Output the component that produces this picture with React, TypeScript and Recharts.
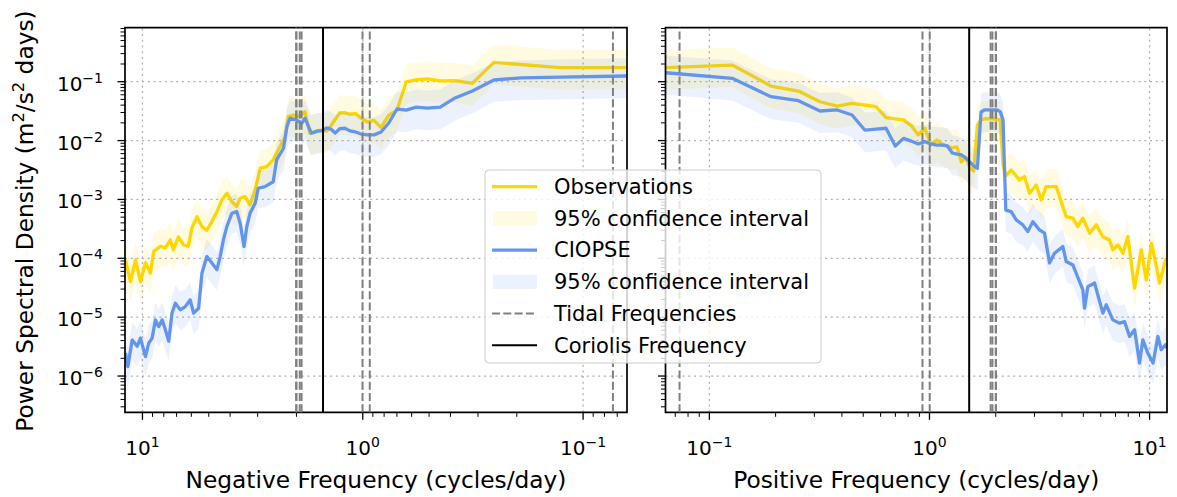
import React from 'react';
import { ComposedChart, Line, Area, XAxis, YAxis, ReferenceLine, ReferenceArea } from 'recharts';

// ---------- data ----------
const negObsFreq = [0.0635, 0.127, 0.254, 0.318, 0.381, 0.445, 0.508, 0.572, 0.635, 0.699, 0.762, 0.826, 0.889, 0.953, 1.016, 1.08, 1.143, 1.206, 1.27, 1.334, 1.397, 1.46, 1.524, 1.62, 1.74, 1.83, 1.93, 2.07, 2.18, 2.25, 2.42, 2.55, 2.73, 2.92, 3.08, 3.25, 3.42, 3.6, 3.73, 3.93, 4.14, 4.36, 4.59, 4.84, 5.1, 5.37, 5.65, 5.96, 6.19, 6.52, 6.87, 7.24, 7.47, 7.87, 8.29, 8.89, 9.2, 9.69, 10.21, 10.76, 11.33, 11.94];
const negObs = [0.173, 0.173, 0.213, 0.094, 0.104, 0.103, 0.112, 0.107, 0.099, 0.033, 0.027, 0.0167, 0.022, 0.0207, 0.024, 0.029, 0.028, 0.0295, 0.0295, 0.023, 0.0177, 0.0145, 0.015, 0.0147, 0.0133, 0.031, 0.0255, 0.0272, 0.0255, 0.0116, 0.0069, 0.0047, 0.0036, 0.0034, 0.00145, 0.00081, 0.00112, 0.00105, 0.00076, 0.00092, 0.00127, 0.00098, 0.00062, 0.00042, 0.0003, 0.000345, 0.00051, 0.00033, 0.00016, 0.00017, 0.00023, 0.00014, 0.000205, 0.00015, 0.00016, 0.00013, 0.000056, 0.000084, 0.00004, 0.000094, 0.00004, 0.000094];
const negObsHi = [0.35, 0.35, 0.43, 0.19, 0.21, 0.21, 0.22, 0.21, 0.2, 0.066, 0.054, 0.033, 0.044, 0.041, 0.048, 0.058, 0.056, 0.059, 0.059, 0.046, 0.035, 0.029, 0.03, 0.029, 0.027, 0.062, 0.051, 0.054, 0.051, 0.023, 0.014, 0.0094, 0.0072, 0.0068, 0.0029, 0.0016, 0.0022, 0.0021, 0.0015, 0.0018, 0.0025, 0.002, 0.0012, 0.00084, 0.0006, 0.00069, 0.001, 0.00066, 0.00032, 0.00034, 0.00046, 0.00028, 0.00041, 0.0003, 0.00032, 0.00026, 0.00011, 0.00017, 0.00008, 0.00019, 0.00008, 0.00019];
const negObsLo = [0.073, 0.073, 0.089, 0.039, 0.044, 0.043, 0.047, 0.045, 0.042, 0.014, 0.011, 0.007, 0.0092, 0.0087, 0.01, 0.012, 0.0118, 0.0124, 0.0124, 0.0097, 0.0074, 0.0061, 0.0063, 0.0062, 0.0056, 0.013, 0.0107, 0.0114, 0.0107, 0.0049, 0.0029, 0.0021, 0.0016, 0.0015, 0.00065, 0.00036, 0.0005, 0.00047, 0.00034, 0.00041, 0.00057, 0.00044, 0.00028, 0.00019, 0.000135, 0.000155, 0.00023, 0.00015, 0.000072, 0.000077, 0.0001, 0.000063, 0.000092, 0.000068, 0.000072, 0.000059, 0.000025, 0.000038, 0.000018, 0.000042, 0.000018, 0.000042];

const negModFreq = [0.0635, 0.127, 0.1905, 0.254, 0.318, 0.381, 0.445, 0.508, 0.572, 0.635, 0.699, 0.762, 0.826, 0.889, 0.953, 1.016, 1.08, 1.143, 1.206, 1.27, 1.334, 1.397, 1.46, 1.524, 1.6, 1.71, 1.83, 1.89, 2.0, 2.14, 2.21, 2.29, 2.46, 2.55, 2.78, 2.98, 3.08, 3.25, 3.36, 3.46, 3.6, 3.73, 3.93, 4.14, 4.29, 4.44, 4.59, 4.84, 5.1, 5.37, 5.56, 5.86, 6.07, 6.39, 6.73, 7.09, 7.34, 7.6, 7.87, 8.14, 8.44, 8.73, 9.04, 9.37, 9.69, 10.21, 10.57, 11.13, 11.65, 11.94];
const negMod = [0.125, 0.12, 0.116, 0.107, 0.0695, 0.053, 0.037, 0.0357, 0.037, 0.033, 0.0344, 0.0199, 0.014, 0.0125, 0.0125, 0.0129, 0.014, 0.0146, 0.0162, 0.016, 0.0134, 0.0157, 0.0164, 0.0148, 0.0145, 0.0133, 0.024, 0.0197, 0.0224, 0.024, 0.0172, 0.0074, 0.0047, 0.002, 0.00165, 0.00155, 0.00086, 0.00058, 0.000345, 0.000158, 0.00039, 0.00062, 0.00058, 0.000345, 0.000205, 0.000107, 0.000064, 0.000083, 0.000107, 0.000056, 0.0000142, 0.0000117, 0.0000197, 0.0000151, 0.0000133, 0.0000173, 0.0000117, 0.0000039, 0.0000061, 0.000009, 0.0000069, 0.000009, 0.0000044, 0.0000036, 0.00000214, 0.0000044, 0.0000032, 0.0000041, 0.00000145, 0.00000245];
const negModHi = [0.25, 0.24, 0.23, 0.21, 0.14, 0.106, 0.074, 0.071, 0.074, 0.066, 0.069, 0.04, 0.028, 0.025, 0.025, 0.026, 0.028, 0.029, 0.032, 0.032, 0.027, 0.031, 0.033, 0.03, 0.029, 0.027, 0.048, 0.039, 0.045, 0.048, 0.034, 0.015, 0.0094, 0.004, 0.0033, 0.0031, 0.0017, 0.00116, 0.00069, 0.00032, 0.00078, 0.00124, 0.00116, 0.00069, 0.00041, 0.00021, 0.000128, 0.000166, 0.00021, 0.000112, 0.000028, 0.000023, 0.000039, 0.00003, 0.000027, 0.000035, 0.000023, 0.0000078, 0.0000122, 0.000018, 0.0000138, 0.000018, 0.0000088, 0.0000072, 0.0000043, 0.0000088, 0.0000064, 0.0000082, 0.0000029, 0.0000049];
const negModLo = [0.053, 0.05, 0.049, 0.045, 0.029, 0.022, 0.0155, 0.015, 0.0155, 0.0139, 0.0144, 0.0084, 0.0059, 0.0053, 0.0053, 0.0054, 0.0059, 0.0061, 0.0068, 0.0067, 0.0056, 0.0066, 0.0069, 0.0062, 0.0061, 0.0056, 0.01, 0.0083, 0.0094, 0.01, 0.0072, 0.0031, 0.002, 0.0009, 0.00074, 0.0007, 0.00039, 0.00026, 0.000155, 0.000071, 0.000175, 0.00028, 0.00026, 0.000155, 0.000092, 0.000048, 0.000029, 0.000037, 0.000048, 0.000025, 0.0000064, 0.0000053, 0.0000089, 0.0000068, 0.000006, 0.0000078, 0.0000053, 0.00000175, 0.0000027, 0.000004, 0.0000031, 0.000004, 0.000002, 0.0000016, 0.00000096, 0.000002, 0.00000144, 0.00000185, 0.00000065, 0.0000011];

const posObsFreq = [0.0635, 0.127, 0.1905, 0.254, 0.318, 0.381, 0.445, 0.508, 0.572, 0.635, 0.699, 0.762, 0.826, 0.889, 0.953, 1.016, 1.08, 1.143, 1.206, 1.27, 1.334, 1.397, 1.46, 1.524, 1.588, 1.651, 1.715, 1.778, 1.905, 2.032, 2.096, 2.159, 2.222, 2.352, 2.566, 2.703, 2.848, 3.055, 3.219, 3.392, 3.766, 4.182, 4.481, 4.722, 4.975, 5.337, 5.724, 6.135, 6.579, 6.811, 7.177, 7.562, 7.969, 8.548, 9.17, 9.66, 10.2, 10.67, 11.1, 11.82, 11.95];
const posObs = [0.173, 0.192, 0.0845, 0.0695, 0.0457, 0.0386, 0.043, 0.0402, 0.0377, 0.0245, 0.0233, 0.0224, 0.018, 0.01245, 0.0162, 0.0084, 0.0102, 0.00875, 0.0081, 0.0075, 0.0078, 0.00434, 0.00527, 0.00343, 0.00305, 0.0184, 0.0224, 0.0233, 0.0237, 0.0228, 0.0224, 0.00385, 0.0025, 0.00317, 0.00214, 0.00244, 0.00127, 0.00176, 0.00098, 0.00165, 0.00165, 0.00051, 0.00048, 0.000345, 0.00048, 0.000267, 0.00037, 0.000233, 0.000205, 0.000139, 0.000169, 0.000122, 0.000233, 0.000031, 0.000139, 0.000043, 0.00018, 0.000083, 0.000038, 0.000094, 0.0001];
const posObsHi = [0.35, 0.38, 0.17, 0.14, 0.091, 0.077, 0.086, 0.08, 0.075, 0.049, 0.047, 0.045, 0.036, 0.025, 0.032, 0.017, 0.02, 0.0175, 0.016, 0.015, 0.0156, 0.0087, 0.0105, 0.0069, 0.0061, 0.037, 0.045, 0.047, 0.047, 0.046, 0.045, 0.0077, 0.005, 0.0063, 0.0043, 0.0049, 0.0025, 0.0035, 0.002, 0.0033, 0.0033, 0.001, 0.00096, 0.00069, 0.00096, 0.00053, 0.00074, 0.00047, 0.00041, 0.00028, 0.00034, 0.00024, 0.00047, 0.000062, 0.00028, 0.000086, 0.00036, 0.000166, 0.000076, 0.00019, 0.0002];
const posObsLo = [0.073, 0.081, 0.035, 0.029, 0.019, 0.016, 0.018, 0.017, 0.016, 0.0103, 0.0098, 0.0094, 0.0076, 0.0052, 0.0068, 0.0035, 0.0043, 0.0037, 0.0034, 0.0032, 0.0033, 0.0018, 0.0022, 0.0014, 0.0013, 0.0077, 0.0094, 0.0098, 0.01, 0.0096, 0.0094, 0.0016, 0.00105, 0.0013, 0.00096, 0.0011, 0.00057, 0.00079, 0.00044, 0.00074, 0.00074, 0.00023, 0.00022, 0.000155, 0.00022, 0.00012, 0.000167, 0.000105, 0.000092, 0.000063, 0.000076, 0.000055, 0.000105, 0.000014, 0.000063, 0.000019, 0.000081, 0.000037, 0.000017, 0.000042, 0.000045];

const posModFreq = [0.0635, 0.127, 0.1905, 0.254, 0.318, 0.381, 0.445, 0.508, 0.572, 0.635, 0.699, 0.762, 0.826, 0.889, 0.953, 1.016, 1.08, 1.143, 1.206, 1.27, 1.334, 1.397, 1.46, 1.524, 1.588, 1.651, 1.715, 1.778, 1.905, 2.032, 2.096, 2.159, 2.222, 2.352, 2.478, 2.656, 2.798, 2.948, 3.162, 3.332, 3.511, 3.7, 4.036, 4.182, 4.481, 4.975, 5.064, 5.243, 5.623, 6.135, 6.357, 6.811, 7.305, 7.697, 8.111, 8.548, 9.005, 9.32, 9.82, 10.37, 10.91, 11.3, 11.82, 11.95];
const posMod = [0.142, 0.114, 0.0556, 0.0475, 0.0318, 0.0331, 0.0272, 0.0151, 0.0157, 0.0162, 0.0081, 0.0109, 0.0098, 0.00875, 0.0096, 0.00875, 0.0084, 0.0084, 0.0081, 0.00615, 0.0059, 0.0057, 0.00506, 0.00434, 0.00371, 0.00339, 0.0306, 0.0331, 0.0331, 0.0331, 0.031, 0.0224, 0.00066, 0.00062, 0.00045, 0.00037, 0.000284, 0.00042, 0.000303, 0.000267, 0.000083, 0.000122, 0.000158, 0.000088, 0.000077, 0.000029, 0.0000142, 0.000033, 0.000038, 0.0000117, 0.0000162, 0.000009, 0.0000079, 0.0000084, 0.0000047, 0.0000061, 0.00000166, 0.0000041, 0.00000245, 0.00000166, 0.0000047, 0.0000028, 0.0000034, 0.000003];
const posModHi = [0.28, 0.23, 0.11, 0.095, 0.064, 0.066, 0.054, 0.03, 0.031, 0.032, 0.016, 0.022, 0.0196, 0.0175, 0.019, 0.0175, 0.0168, 0.0168, 0.016, 0.0123, 0.0118, 0.0114, 0.0101, 0.0087, 0.0074, 0.0068, 0.061, 0.066, 0.066, 0.066, 0.062, 0.045, 0.0013, 0.0012, 0.0009, 0.00074, 0.00057, 0.00084, 0.00061, 0.00053, 0.000166, 0.00024, 0.00032, 0.000176, 0.000154, 0.000058, 0.000028, 0.000066, 0.000076, 0.000023, 0.000032, 0.000018, 0.0000158, 0.0000168, 0.0000094, 0.0000122, 0.0000033, 0.0000082, 0.0000049, 0.0000033, 0.0000094, 0.0000056, 0.0000068, 0.000006];
const posModLo = [0.06, 0.048, 0.023, 0.02, 0.0134, 0.0139, 0.0114, 0.0063, 0.0066, 0.0068, 0.0034, 0.0046, 0.0041, 0.0037, 0.004, 0.0037, 0.0035, 0.0035, 0.0034, 0.0026, 0.0025, 0.0024, 0.0021, 0.0018, 0.0016, 0.0014, 0.0129, 0.0139, 0.0139, 0.0139, 0.013, 0.0094, 0.00028, 0.00026, 0.00019, 0.000167, 0.000128, 0.00019, 0.000136, 0.00012, 0.000037, 0.000055, 0.000071, 0.00004, 0.000035, 0.000013, 0.0000064, 0.0000149, 0.000017, 0.0000053, 0.0000073, 0.000004, 0.0000036, 0.0000038, 0.0000021, 0.0000027, 0.00000075, 0.00000185, 0.0000011, 0.00000075, 0.0000021, 0.00000126, 0.00000153, 0.00000135];

const tidalFreqs = [0.0732, 0.9295, 1.0027, 1.896, 1.9323, 2.0, 2.0055];
const coriolisFreq = 1.515;

const xTicks = [0.07, 0.08, 0.09, 0.1, 0.2, 0.3, 0.4, 0.5, 0.6, 0.7, 0.8, 0.9, 1, 2, 3, 4, 5, 6, 7, 8, 9, 10];
const xGrid = [0.1, 1, 10];
const yTicks = [
  3e-7, 4e-7, 5e-7, 6e-7, 7e-7, 8e-7, 9e-7,
  1e-6, 2e-6, 3e-6, 4e-6, 5e-6, 6e-6, 7e-6, 8e-6, 9e-6,
  1e-5, 2e-5, 3e-5, 4e-5, 5e-5, 6e-5, 7e-5, 8e-5, 9e-5,
  1e-4, 2e-4, 3e-4, 4e-4, 5e-4, 6e-4, 7e-4, 8e-4, 9e-4,
  1e-3, 2e-3, 3e-3, 4e-3, 5e-3, 6e-3, 7e-3, 8e-3, 9e-3,
  1e-2, 2e-2, 3e-2, 4e-2, 5e-2, 6e-2, 7e-2, 8e-2, 9e-2,
  1e-1, 2e-1, 3e-1, 4e-1, 5e-1, 6e-1, 7e-1, 8e-1,
];
const yGrid = [1e-6, 1e-5, 1e-4, 1e-3, 1e-2, 1e-1];

const legendLabels = ['Observations', '95% confidence interval', 'CIOPSE', '95% confidence interval', 'Tidal Frequencies', 'Coriolis Frequency'];

// ---------- config ----------
const W = 1177;
const H = 497;
const FONT = '"DejaVu Sans", Verdana, sans-serif';
const GOLD = '#FFD700';
const BLUE = '#6495ED';
const X_DOMAIN: [number, number] = [0.0632, 12];
const Y_DOMAIN: [number, number] = [2.42e-7, 0.827];
const BAND_OPACITY = 0.12;
const TIDAL_DASH = '8 3.3';
const TICK_FS = 20;
const SUP_FS = 14;
const SUP_RAISE = 8;
const LINE_W = 3.3;

const build = (f: number[], v: number[], lo: number[], hi: number[]) =>
  f.map((x, i) => ({ f: x, v: v[i], band: [lo[i], hi[i]] }));

const negObsData = build(negObsFreq, negObs, negObsLo, negObsHi);
const negModData = build(negModFreq, negMod, negModLo, negModHi);
const posObsData = build(posObsFreq, posObs, posObsLo, posObsHi);
const posModData = build(posModFreq, posMod, posModLo, posModHi);

const expOf = (v: number) => {
  const l = Math.log10(v);
  const e = Math.round(l);
  return { major: Math.abs(l - e) < 1e-6, txt: e < 0 ? '\u2212' + String(-e) : String(e) };
};

const XTick = (props: any) => {
  const { x, y, payload } = props;
  const { major, txt } = expOf(payload.value);
  return (
    <g>
      <line x1={x} x2={x} y1={y} y2={y + (major ? 7.5 : 4.5)} stroke="#000" strokeWidth={major ? 1.3 : 1} />
      {major && (
        <text x={x} y={y + 42.7} textAnchor="middle" fontSize={TICK_FS} fontFamily={FONT} fill="#000">
          10<tspan dy={-SUP_RAISE} fontSize={SUP_FS}>{txt}</tspan>
        </text>
      )}
    </g>
  );
};

const YTick = (props: any) => {
  const { x, y, payload, showLabel } = props;
  const { major, txt } = expOf(payload.value);
  return (
    <g>
      <line x1={x - (major ? 7.5 : 4.5)} x2={x} y1={y} y2={y} stroke="#000" strokeWidth={major ? 1.3 : 1} />
      {major && showLabel && (
        <text x={x - 22} y={y + 9} textAnchor="end" fontSize={TICK_FS} fontFamily={FONT} fill="#000">
          10<tspan dy={-SUP_RAISE} fontSize={SUP_FS}>{txt}</tspan>
        </text>
      )}
    </g>
  );
};

type Margin = { top: number; right: number; bottom: number; left: number };

function Layer(props: {
  data: any[];
  width: number;
  margin: Margin;
  yWidth: number;
  reversed: boolean;
  axes: boolean;
  yLabels: boolean;
  children?: React.ReactNode;
}) {
  const { data, width, margin, yWidth, reversed, axes, yLabels, children } = props;
  return (
    <div style={{ position: 'absolute', left: 0, top: 0 }}>
      <ComposedChart width={width} height={H} data={data} margin={margin}>
        <XAxis
          dataKey="f"
          type="number"
          scale="log"
          domain={X_DOMAIN}
          allowDataOverflow
          reversed={reversed}
          ticks={xTicks}
          interval={0}
          height={60}
          tickSize={0}
          tickMargin={0}
          tickLine={false}
          axisLine={false}
          tick={axes ? (p: any) => <XTick {...p} /> : false}
        />
        <YAxis
          type="number"
          scale="log"
          domain={Y_DOMAIN}
          allowDataOverflow
          width={yWidth}
          ticks={yTicks}
          interval={0}
          tickSize={0}
          tickMargin={0}
          tickLine={false}
          axisLine={false}
          tick={axes ? (p: any) => <YTick {...p} showLabel={yLabels} /> : false}
        />
        {children}
      </ComposedChart>
    </div>
  );
}

function Panel(props: { obs: any[]; mod: any[]; width: number; margin: Margin; yWidth: number; reversed: boolean; yLabels: boolean }) {
  const { obs, mod, width, margin, yWidth, reversed, yLabels } = props;
  const common = { width, margin, yWidth, reversed };
  return (
    <>
      <Layer {...common} data={obs} axes yLabels={yLabels}>
        {xGrid.map((g) => (
          <ReferenceLine key={'gx' + g} x={g} stroke="#b0b0b0" strokeWidth={1.3} strokeDasharray="2 3.7" />
        ))}
        {yGrid.map((g) => (
          <ReferenceLine key={'gy' + g} y={g} stroke="#b0b0b0" strokeWidth={1.3} strokeDasharray="2 3.7" />
        ))}
        <Area dataKey="band" type="linear" stroke="none" fill={GOLD} fillOpacity={BAND_OPACITY} isAnimationActive={false} />
        <Line dataKey="v" type="linear" stroke={GOLD} strokeWidth={LINE_W} dot={false} strokeLinejoin="round" isAnimationActive={false} />
      </Layer>
      <Layer {...common} data={mod} axes={false} yLabels={false}>
        <Area dataKey="band" type="linear" stroke="none" fill={BLUE} fillOpacity={BAND_OPACITY} isAnimationActive={false} />
        <Line dataKey="v" type="linear" stroke={BLUE} strokeWidth={LINE_W} dot={false} strokeLinejoin="round" isAnimationActive={false} />
      </Layer>
      <Layer {...common} data={obs} axes={false} yLabels={false}>
        {tidalFreqs.map((t) => (
          <ReferenceLine key={'t' + t} x={t} stroke="#808080" strokeWidth={2} strokeDasharray={TIDAL_DASH} />
        ))}
        <ReferenceLine x={coriolisFreq} stroke="#000" strokeWidth={2} />
        <ReferenceArea
          x1={X_DOMAIN[0]}
          x2={X_DOMAIN[1]}
          y1={Y_DOMAIN[0]}
          y2={Y_DOMAIN[1]}
          fill="none"
          fillOpacity={0}
          stroke="#000"
          strokeWidth={1.7}
          ifOverflow="visible"
        />
      </Layer>
    </>
  );
}

function Legend() {
  const x0 = 492;
  const x1 = 537;
  const rows = legendLabels.map((label, i) => {
    const cy = 186.7 + 31.7 * i;
    let handle: React.ReactNode = null;
    if (i === 0) handle = <line x1={x0} x2={x1} y1={cy} y2={cy} stroke={GOLD} strokeWidth={LINE_W} />;
    if (i === 1) handle = <rect x={x0 + 1} y={cy - 7.2} width={x1 - x0 - 1} height={14.4} fill={GOLD} fillOpacity={BAND_OPACITY} />;
    if (i === 2) handle = <line x1={x0} x2={x1} y1={cy} y2={cy} stroke={BLUE} strokeWidth={LINE_W} />;
    if (i === 3) handle = <rect x={x0 + 1} y={cy - 7.2} width={x1 - x0 - 1} height={14.4} fill={BLUE} fillOpacity={BAND_OPACITY} />;
    if (i === 4) handle = <line x1={x0} x2={x1} y1={cy} y2={cy} stroke="#808080" strokeWidth={2} strokeDasharray={TIDAL_DASH} />;
    if (i === 5) handle = <line x1={x0} x2={x1} y1={cy} y2={cy} stroke="#000" strokeWidth={2} />;
    return (
      <g key={i}>
        {handle}
        <text x={554} y={cy + 7.3} fontSize={21} fontFamily={FONT} fill="#000">
          {label}
        </text>
      </g>
    );
  });
  return (
    <g>
      <rect x={485} y={170} width={336} height={193} rx={4} fill="#fff" fillOpacity={0.8} stroke="#cccccc" strokeWidth={1} />
      {rows}
    </g>
  );
}

export default function App() {
  return (
    <div style={{ position: 'absolute', left: 0, top: 0, width: W, height: H, background: '#fff', overflow: 'hidden' }}>
      <div style={{ position: 'absolute', left: 0, top: 0, width: 640, height: H }}>
        <Panel
          obs={negObsData}
          mod={negModData}
          width={640}
          margin={{ top: 27.7, right: 13, bottom: 24.7, left: 25 }}
          yWidth={100}
          reversed
          yLabels
        />
      </div>
      <div style={{ position: 'absolute', left: 640, top: 0, width: 537, height: H }}>
        <Panel
          obs={posObsData}
          mod={posModData}
          width={537}
          margin={{ top: 27.7, right: 10, bottom: 24.7, left: 15.5 }}
          yWidth={10}
          reversed={false}
          yLabels={false}
        />
      </div>
      <svg width={W} height={H} style={{ position: 'absolute', left: 0, top: 0, pointerEvents: 'none' }}>
        <text transform="translate(33,221) rotate(-90)" textAnchor="middle" fontSize={23.3} fontFamily={FONT} fill="#000">
          Power Spectral Density (m<tspan dy={-9} fontSize={16.3}>2</tspan>
          <tspan dy={9}>/s</tspan>
          <tspan dy={-9} fontSize={16.3}>2</tspan>
          <tspan dy={9}>{' days)'}</tspan>
        </text>
        <text x={376} y={487.7} textAnchor="middle" fontSize={23.3} fontFamily={FONT} fill="#000">
          Negative Frequency (cycles/day)
        </text>
        <text x={916.3} y={487.7} textAnchor="middle" fontSize={23.3} fontFamily={FONT} fill="#000">
          Positive Frequency (cycles/day)
        </text>
        <Legend />
      </svg>
    </div>
  );
}
